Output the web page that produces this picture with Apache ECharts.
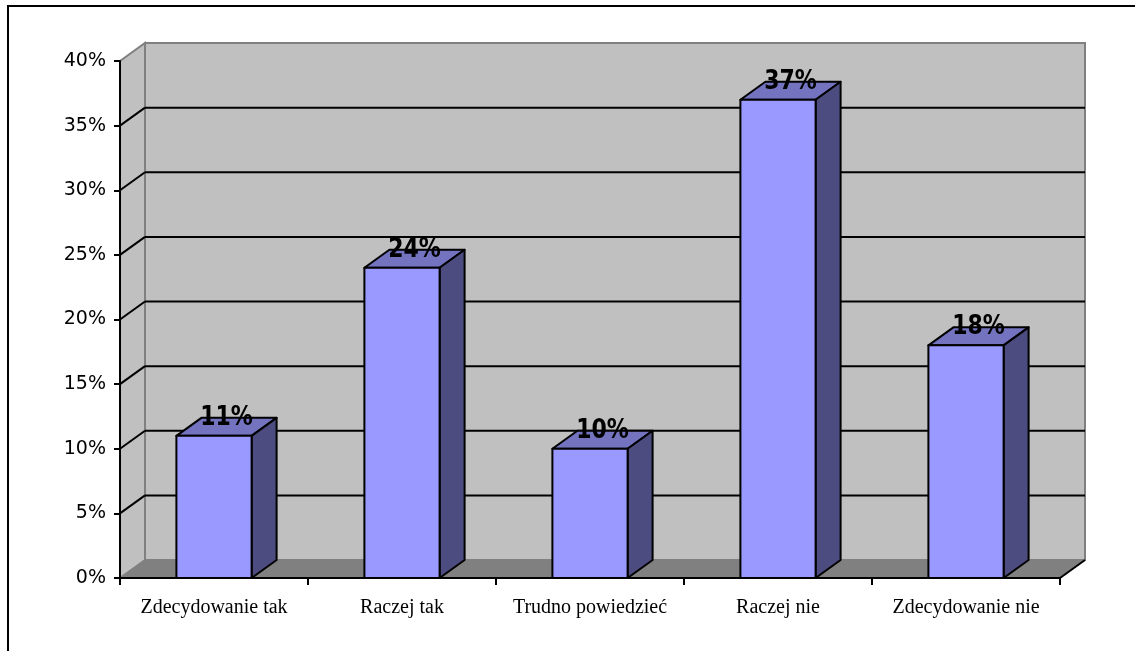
<!DOCTYPE html>
<html>
<head>
<meta charset="utf-8">
<script src="https://cdn.jsdelivr.net/npm/echarts@6/dist/echarts.min.js"></script>
<style>
  html, body { margin: 0; padding: 0; background: #fff; }
  #chart { width: 1135px; height: 651px; }
</style>
</head>
<body>
<div id="chart"></div>
<script>
// data
var categories = ['Zdecydowanie tak', 'Raczej tak', 'Trudno powiedzieć', 'Raczej nie', 'Zdecydowanie nie'];
var values = [11, 24, 10, 37, 18];
var gridTicks = [5, 10, 15, 20, 25, 30, 35];

// 3d look
var DX = 25, DY = -18;
var FRONT = '#9999ff', TOP = '#7373c0', SIDE = '#4c4c80';

function renderWalls(params, api) {
  var cs = params.coordSys;
  var x = cs.x, y = cs.y, w = cs.width, h = cs.height;
  var kids = [
    { type: 'rect', shape: { x: x + DX, y: y + DY, width: w, height: h },
      style: { fill: '#c0c0c0', stroke: '#808080', lineWidth: 2 } },
    { type: 'polygon', shape: { points: [[x, y], [x + DX, y + DY], [x + DX, y + h + DY], [x, y + h]] },
      style: { fill: '#c0c0c0', stroke: '#808080', lineWidth: 2 } },
    { type: 'polygon', shape: { points: [[x, y + h], [x + DX, y + h + DY], [x + w + DX, y + h + DY], [x + w, y + h]] },
      style: { fill: '#808080', stroke: '#808080', lineWidth: 1 } },
    { type: 'line', shape: { x1: x + w, y1: y + h, x2: x + w + DX, y2: y + h + DY },
      style: { stroke: '#000', lineWidth: 2 } }
  ];
  gridTicks.forEach(function (t) {
    var yy = api.coord([0, t])[1];
    kids.push({ type: 'line', shape: { x1: x + DX, y1: yy + DY, x2: x + w + DX, y2: yy + DY },
      style: { stroke: '#000', lineWidth: 2 } });
    kids.push({ type: 'line', shape: { x1: x, y1: yy, x2: x + DX, y2: yy + DY },
      style: { stroke: '#000', lineWidth: 2 } });
  });
  return { type: 'group', children: kids };
}

function renderBar(params, api) {
  var i = api.value(0), v = api.value(1);
  var base = api.coord([i, 0]);
  var top = api.coord([i, v]);
  var w = api.size([1, 0])[0] * 0.4;
  var x0 = base[0] - w / 2, x1 = base[0] + w / 2;
  var y0 = base[1], y1 = top[1];
  var st = { stroke: '#000', lineWidth: 2, lineJoin: 'round' };
  return {
    type: 'group',
    children: [
      { type: 'polygon', shape: { points: [[x0, y1], [x1, y1], [x1 + DX, y1 + DY], [x0 + DX, y1 + DY]] },
        style: Object.assign({ fill: TOP }, st) },
      { type: 'polygon', shape: { points: [[x1, y0], [x1 + DX, y0 + DY], [x1 + DX, y1 + DY], [x1, y1]] },
        style: Object.assign({ fill: SIDE }, st) },
      { type: 'rect', shape: { x: x0, y: y1, width: w, height: y0 - y1 },
        style: Object.assign({ fill: FRONT }, st) },
      // label is a bit taller and narrower than plain DejaVu bold
      { type: 'text', x: base[0] + DX / 2, y: y1 + DY, scaleY: 1.2,
        style: { text: v + '%', x: 0, y: 0, align: 'center', verticalAlign: 'middle',
          font: 'bold 22px "DejaVu Sans"', fill: '#000' } }
    ]
  };
}

var chart = echarts.init(document.getElementById('chart'));
chart.setOption({
  animation: false,
  backgroundColor: '#fff',
  grid: { left: 120, right: 75, top: 61, bottom: 73 },
  graphic: [{
    type: 'rect', shape: { x: 8, y: 6, width: 1140, height: 660 },
    style: { fill: 'none', stroke: '#000', lineWidth: 2 }, z: 100
  }],
  xAxis: {
    type: 'category',
    data: categories,
    z: 10,
    axisLine: { lineStyle: { color: '#000', width: 2 } },
    axisTick: { show: true, length: 7, lineStyle: { color: '#000', width: 2 } },
    axisLabel: { color: '#000', fontFamily: '"Liberation Serif"', fontSize: 20, margin: 20, interval: 0 },
    splitLine: { show: false }
  },
  yAxis: {
    type: 'value',
    min: 0, max: 40, interval: 5,
    z: 10,
    axisLine: { show: true, lineStyle: { color: '#000', width: 2 } },
    axisTick: { show: true, length: 6, lineStyle: { color: '#000', width: 2 } },
    axisLabel: { color: '#000', fontFamily: '"DejaVu Sans"', fontSize: 19, margin: 14, formatter: '{value}%' },
    splitLine: { show: false }
  },
  series: [
    { type: 'custom', z: 1, renderItem: renderWalls, data: [[0, 0]], silent: true },
    { type: 'custom', z: 3, renderItem: renderBar,
      data: values.map(function (v, i) { return [i, v]; }),
      encode: { x: 0, y: 1 } }
  ]
});
</script>
</body>
</html>
